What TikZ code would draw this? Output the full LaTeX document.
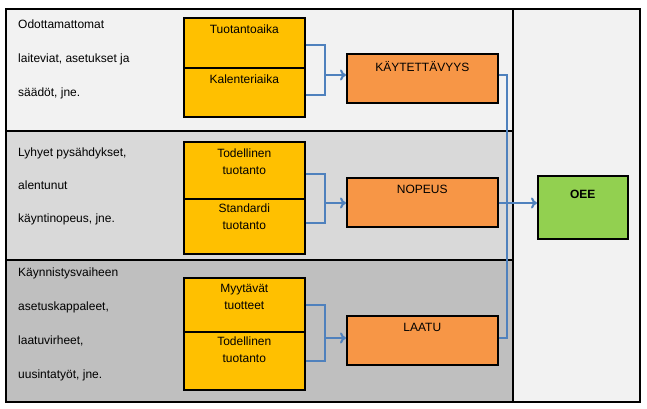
\documentclass[tikz,border=0pt]{standalone}
\usepackage{fontspec}
\setmainfont{Liberation Sans}
\usetikzlibrary{arrows.meta}
\definecolor{ykelt}{HTML}{FFC000}
\definecolor{orans}{HTML}{F79646}
\definecolor{vihr}{HTML}{92D050}
\definecolor{sin}{HTML}{4F81BD}
\tikzset{
  ybox/.style={draw, line width=1.6pt, fill=ykelt, minimum width=121pt, minimum height=#1, inner sep=0pt, anchor=north west},
  obox/.style={draw, line width=1.6pt, fill=orans, minimum width=151pt, minimum height=49pt, inner sep=0pt, anchor=north west},
  txt/.style={anchor=north, align=center, inner sep=0pt, font=\fontsize{12}{17}\selectfont},
  link/.style={draw=sin, line width=2.2pt},
  arr/.style={link, -{To[length=6pt,width=11pt,line width=2pt]}}
}
\begin{document}
\begin{tikzpicture}[x=1pt,y=-1pt]
\useasboundingbox (0,0) rectangle (647,409);

%%%%% Backgrounds %%%%%
\fill[black!5] (6,9) rectangle (513,131);
\fill[black!15] (6,131) rectangle (513,260);
\fill[black!25] (6,260) rectangle (513,402);
\fill[black!5] (513,9) rectangle (640,402);
\draw[line width=1.6pt] (6,9) rectangle (640,402);
\draw[line width=1.6pt] (513,9) -- (513,402);
\draw[line width=1.6pt] (6,131) -- (513,131);
\draw[line width=1.6pt] (6,260) -- (513,260);

%%%%% Left texts %%%%%
\node (syyA) at (18,20) [anchor=north west, align=left, inner sep=0pt, font=\fontsize{12}{34}\selectfont] {Odottamattomat\\laiteviat, asetukset ja\\säädöt, jne.};
\node (syyB) at (18,148) [anchor=north west, align=left, inner sep=0pt, font=\fontsize{12}{33}\selectfont] {Lyhyet pysähdykset,\\alentunut\\käyntinopeus, jne.};
\node (syyC) at (18,268) [anchor=north west, align=left, inner sep=0pt, font=\fontsize{12}{34}\selectfont] {Käynnistysvaiheen\\asetuskappaleet,\\laatuvirheet,\\uusintatyöt, jne.};

%%%%% Yellow boxes %%%%%
\node (tuot) at (183,17) [ybox=50pt] {};
\node (kal) at (183,67) [ybox=49pt] {};
\node (tod1) at (183,141) [ybox=57pt] {};
\node (std) at (183,198) [ybox=55pt] {};
\node (myy) at (183,277) [ybox=54pt] {};
\node (tod2) at (183,331) [ybox=58pt] {};

\node at ([yshift=-8pt]tuot.north) [txt] {Tuotantoaika};
\node at ([yshift=-8pt]kal.north) [txt] {Kalenteriaika};
\node at ([yshift=-8pt]tod1.north) [txt] {Todellinen\\tuotanto};
\node at ([yshift=-6pt]std.north) [txt] {Standardi\\tuotanto};
\node at ([yshift=-7pt]myy.north) [txt] {Myytävät\\tuotteet};
\node at ([yshift=-6pt]tod2.north) [txt] {Todellinen\\tuotanto};

%%%%% Orange boxes %%%%%
\node (kayt) at (346,53) [obox] {};
\node (nop) at (346,177) [obox] {};
\node (laatu) at (346,315) [obox] {};
\node at ([yshift=-8pt]kayt.north) [txt] {KÄYTETTÄVYYS};
\node at ([yshift=-8pt]nop.north) [txt] {NOPEUS};
\node at ([yshift=-8pt]laatu.north) [txt] {LAATU};

%%%%% OEE %%%%%
\node (oee) at (537,175) [draw, line width=1.6pt, fill=vihr, minimum width=90pt, minimum height=63pt, anchor=north west, inner sep=0pt] {};
\node at ([yshift=-15pt]oee.north) [txt, font=\fontsize{12}{14}\bfseries] {OEE};

%%%%% Connectors %%%%%
\draw[link] ([yshift=-28pt]tuot.north east) -| (325,75);
\draw[link] ([yshift=-28pt]kal.north east) -| (325,75);
\draw[arr] (325,75) -- (kayt.west |- 0,75);
\draw[link] ([yshift=-33pt]tod1.north east) -| (325,203);
\draw[link] ([yshift=-25pt]std.north east) -| (325,203);
\draw[arr] (325,203) -- (nop.west |- 0,203);
\draw[link] ([yshift=-28pt]myy.north east) -| (325,338);
\draw[link] ([yshift=-30pt]tod2.north east) -| (325,338);
\draw[arr] (325,338) -- (laatu.west |- 0,338);

\draw[link] (kayt.east |- 0,75) -| (507,203);
\draw[link] (laatu.east |- 0,338) -| (507,203);
\draw[arr] (nop.east |- 0,203) -- (oee.west |- 0,203);

\end{tikzpicture}
\end{document}
